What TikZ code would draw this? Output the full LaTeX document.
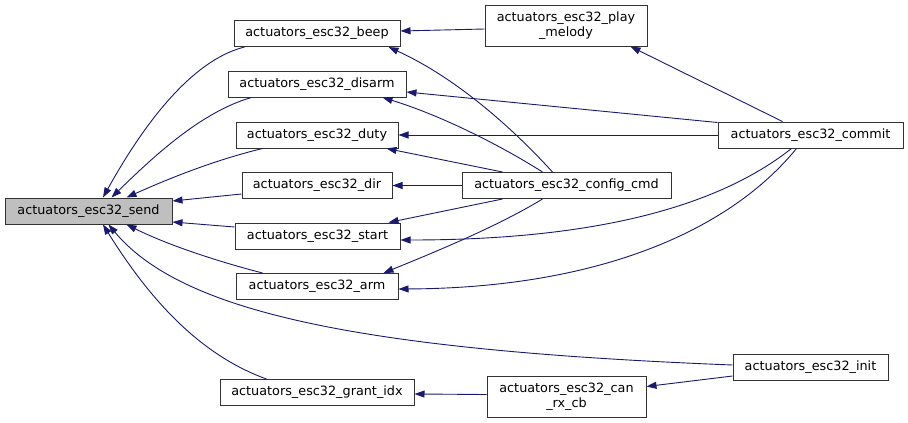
\documentclass[tikz,border=0pt]{standalone}
\usepackage{fontspec}
\setmainfont{DejaVu Sans}
\usetikzlibrary{arrows.meta,calc}
\definecolor{edgeblue}{HTML}{191970}
\begin{document}
\begin{tikzpicture}[x=1pt,y=-1pt,
  box/.style={draw=black!80, line width=1pt, rectangle, inner sep=0pt,
    minimum height=26pt, align=center, font=\fontsize{12.8}{15}\selectfont},
  edge/.style={draw=edgeblue, line width=0.9pt, -{Triangle[length=10pt,width=7pt]}}]
\useasboundingbox (0,0) rectangle (908,423);
% nodes
\node[box, fill=black!25, minimum width=167pt] (send) at (88.5,211) {actuators\_esc32\_send};
\node[box, minimum width=166pt] (beep) at (317,33.5) {actuators\_esc32\_beep};
\node[box, minimum width=178pt] (disarm) at (317,84) {actuators\_esc32\_disarm};
\node[box, minimum width=162pt] (duty) at (317,135) {actuators\_esc32\_duty};
\node[box, minimum width=150pt] (dir) at (317,185.5) {actuators\_esc32\_dir};
\node[box, minimum width=165pt] (start) at (317.5,236) {actuators\_esc32\_start};
\node[box, minimum width=162pt] (arm) at (317,286.5) {actuators\_esc32\_arm};
\node[box, minimum width=194pt] (grant) at (317,392.5) {actuators\_esc32\_grant\_idx};
\node[box, minimum width=162pt, minimum height=41pt] (play) at (566,25.5) {actuators\_esc32\_play\\\_melody};
\node[box, minimum width=209pt] (config) at (566.5,185.5) {actuators\_esc32\_config\_cmd};
\node[box, minimum width=159pt, minimum height=41pt] (can) at (566.5,396.5) {actuators\_esc32\_can\\\_rx\_cb};
\node[box, minimum width=185pt] (commit) at (810.5,135) {actuators\_esc32\_commit};
\node[box, minimum width=155pt] (init) at (810.5,367) {actuators\_esc32\_init};
% edges to send
\draw[edge] ($(beep.south west)+(11,0)$) .. controls (185,62) and (135,140) .. ($(send.north)+(14.5,0)$);
\draw[edge] ($(disarm.south west)+(24,0)$) .. controls (200,112) and (150,160) .. ($(send.north)+(23,0)$);
\draw[edge] ($(duty.south west)+(27,0)$) .. controls (215,160) and (170,178) .. ($(send.north)+(38,0)$);
\draw[edge] ($(dir.west)+(0,8.5)$) -- ($(send.east)+(0,-10)$);
\draw[edge] ($(start.west)+(0,-9)$) -- ($(send.east)+(0,11)$);
\draw[edge] ($(arm.north west)+(27,0)$) .. controls (220,262) and (170,246) .. ($(send.south)+(38,0)$);
\draw[edge] ($(grant.north west)+(47,0)$) .. controls (200,355) and (150,300) .. ($(send.south)+(14.5,0)$);
\draw[edge] ($(init.west)+(0,-2)$) .. controls (350,350) and (180,310) .. ($(send.south)+(20,0)$);
% other edges
\draw[edge] ($(play.west)+(0,3.5)$) -- ($(beep.east)+(0,-2.5)$);
\draw[edge] ($(commit.north west)+(65,0)$) -- ($(play.south east)+(-17,0)$);
\draw[edge] ($(commit.north west)+(0,1)$) -- ($(disarm.east)+(0,8)$);
\draw[edge] (commit.west) -- (duty.east);
\draw[edge] ($(config.north west)+(91,0)$) .. controls (505,120) and (450,75) .. ($(beep.south east)+(-12,0)$);
\draw[edge] ($(config.north west)+(81,0)$) .. controls (500,145) and (440,115) .. ($(disarm.south east)+(-24,0)$);
\draw[edge] ($(config.north west)+(41,0)$) -- ($(duty.south east)+(-12,0)$);
\draw[edge] (config.west) -- (dir.east);
\draw[edge] ($(config.south west)+(41,0)$) -- ($(start.north east)+(-12,0)$);
\draw[edge] ($(config.south west)+(81,0)$) .. controls (500,225) and (440,250) .. ($(arm.north east)+(-15,0)$);
\draw[edge] ($(commit.south west)+(74,0)$) .. controls (720,205) and (600,240) .. ($(start.east)+(0,4)$);
\draw[edge] ($(commit.south west)+(79,0)$) .. controls (730,230) and (600,288) .. ($(arm.east)+(0,2.5)$);
\draw[edge] ($(can.west)+(0,-2)$) -- ($(grant.east)+(0,1.5)$);
\draw[edge] ($(init.west)+(0,9)$) -- ($(can.east)+(0,-10)$);
\end{tikzpicture}
\end{document}
